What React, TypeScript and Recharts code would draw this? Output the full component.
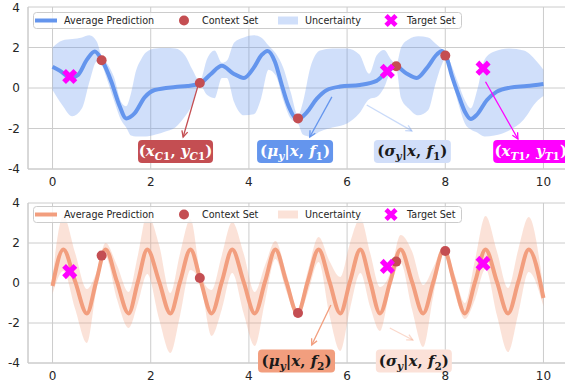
import { ComposedChart, Line, Area, Scatter, XAxis, YAxis, CartesianGrid, ReferenceLine, ReferenceDot, Legend } from 'recharts';

// shared context / target points
const contextX = [1, 3, 5, 7, 8];
const contextY = [1.37, 0.25, -1.5, 1.07, 1.6];
const targetX = [0.35, 6.82, 8.77];
const targetY = [0.57, 0.83, 0.98];

// top panel: average prediction f1
const topMeanX = [0, 0.15, 0.37, 0.52, 0.7, 0.86, 1.0, 1.2, 1.36, 1.5, 1.67, 1.88, 2.08, 2.5, 2.75, 3.0, 3.22, 3.45, 3.68, 3.9, 4.09, 4.26, 4.38, 4.53, 4.67, 4.8, 4.99, 5.18, 5.38, 5.59, 5.86, 6.26, 6.6, 6.81, 7.0, 7.21, 7.42, 7.62, 7.83, 7.93, 8.02, 8.13, 8.27, 8.4, 8.52, 8.64, 8.85, 9.05, 9.32, 9.66, 10];
const topMeanY = [1.05, 0.85, 0.5, 0.65, 1.4, 1.8, 1.4, 0.3, -0.85, -1.5, -1.25, -0.45, -0.1, 0.05, 0.1, 0.22, 0.68, 1.1, 0.72, 0.5, 0.97, 1.63, 1.83, 1.3, 0.15, -0.84, -1.55, -1.2, -0.54, -0.1, 0.07, 0.15, 0.35, 0.8, 1.05, 0.72, 0.5, 0.97, 1.66, 1.83, 1.55, 0.64, -0.35, -1.17, -1.53, -1.33, -0.59, -0.18, 0.02, 0.1, 0.2];

// top panel: uncertainty band
const topBandX = [0, 0.2, 0.4, 0.6, 0.75, 0.9, 1.0, 1.1, 1.25, 1.4, 1.5, 1.6, 1.7, 1.8, 1.9, 2.1, 2.3, 2.5, 2.7, 2.85, 3.0, 3.15, 3.3, 3.45, 3.55, 3.7, 3.9, 4.1, 4.25, 4.4, 4.55, 4.7, 4.85, 5.0, 5.1, 5.25, 5.45, 5.7, 6.0, 6.25, 6.45, 6.6, 6.75, 6.9, 7.0, 7.1, 7.25, 7.45, 7.65, 7.8, 7.92, 8.0, 8.13, 8.27, 8.4, 8.52, 8.65, 8.8, 9.0, 9.3, 9.6, 9.85, 10];
const topBandHigh = [2.0, 2.35, 2.42, 2.5, 2.6, 2.3, 1.55, 1.25, 0.55, -0.7, -0.9, -0.25, 0.85, 1.4, 1.75, 1.95, 1.97, 1.95, 1.6, 0.9, 0.35, 1.45, 1.85, 1.25, 1.35, 2.25, 2.5, 2.6, 2.5, 2.1, 1.7, 1.0, -0.2, -1.35, -0.7, 1.0, 1.85, 1.95, 1.95, 1.65, 0.7, 1.6, 1.88, 1.4, 1.15, 2.0, 2.4, 2.55, 2.5, 2.2, 1.95, 1.8, 1.1, 0.2, -0.6, -1.0, -0.1, 1.4, 1.8, 1.95, 1.85, 1.35, 0.9];
const topBandLow = [-0.1, -0.85, -1.4, -1.0, 0.3, 1.3, 1.15, 0.5, -0.6, -1.6, -1.95, -2.35, -2.4, -2.4, -2.4, -2.3, -2.15, -1.95, -1.4, -0.8, 0.15, -0.35, -0.5, 0.5, 0.5, -0.7, -1.35, -1.3, -0.5, 0.9, 0.6, -0.6, -1.5, -1.75, -2.3, -2.4, -2.15, -1.95, -1.75, -1.25, -0.55, -0.45, 0.0, 0.85, 0.95, -0.5, -1.0, -1.35, -1.1, 0.2, 1.1, 1.45, 0.5, -0.8, -1.75, -2.05, -2.2, -2.4, -2.35, -2.1, -1.55, -0.7, -0.4];

// bottom panel: average prediction f2 and its band
const bottomX = [0, 0.22, 0.46, 0.70, 0.89, 1.08, 1.31, 1.55, 1.74, 1.93, 2.17, 2.40, 2.60, 2.81, 3.02, 3.24, 3.45, 3.66, 3.89, 4.12, 4.33, 4.54, 4.76, 4.99, 5.20, 5.42, 5.64, 5.86, 6.06, 6.27, 6.47, 6.67, 6.88, 7.09, 7.32, 7.55, 7.76, 7.97, 8.18, 8.40, 8.61, 8.82, 9.05, 9.28, 9.49, 9.70, 10];
const bottomMean = [-0.15, 1.68, 0.08, -1.52, 0.08, 1.68, 0.08, -1.52, 0.08, 1.68, 0.08, -1.52, 0.08, 1.68, 0.08, -1.52, 0.08, 1.68, 0.08, -1.52, 0.08, 1.68, 0.08, -1.52, 0.08, 1.68, 0.08, -1.52, 0.08, 1.68, 0.08, -1.52, 0.08, 1.68, 0.08, -1.52, 0.08, 1.68, 0.08, -1.52, 0.08, 1.68, 0.08, -1.52, 0.08, 1.68, -0.75];
const bottomLow = [-0.55, 0.6, -1.3, -3.0, -0.4, 1.3, -0.8, -2.25, -1.0, 0.45, -1.8, -3.5, -1.6, 0.65, -0.1, -2.65, -1.3, 0.5, -1.5, -3.15, -0.9, 1.2, -0.4, -1.75, -0.5, 1.05, -1.6, -3.4, -1.3, 0.5, -1.2, -2.4, -0.3, 1.0, -1.3, -3.2, -0.6, 1.45, -0.4, -1.8, -0.8, 0.7, -1.6, -3.45, -1.5, 0.55, -1.15];
const bottomHigh = [0.3, 3.35, 1.5, -0.3, 0.5, 2.0, 0.9, -0.45, 1.4, 3.45, 1.9, -0.5, 1.5, 3.2, 0.4, -0.35, 1.4, 3.05, 1.5, -0.45, 0.9, 2.1, 0.5, -1.3, 0.6, 2.3, 1.1, 0.3, 2.0, 3.25, 1.5, -0.2, 0.5, 2.4, 1.6, -0.1, 0.8, 1.85, 0.5, -1.0, 1.2, 3.35, 1.6, -0.25, 1.7, 3.3, -0.3];

const xTicks = [0, 2, 4, 6, 8, 10];
const yTicks = [-4, -2, 0, 2, 4];

const BLUE = '#6495ED';
const SALMON = '#F29E7E';
const RED = '#C44E52';
const MAGENTA = '#FF00FF';
const BLUE_LIGHT = '#D1DEF9';
const SALMON_LIGHT = '#FBE1D8';
const GRID = '#cccccc';
const INK = '#262626';

const contextPts = contextX.map((x, i) => ({ x, y: contextY[i] }));
const targetPts = targetX.map((x, i) => ({ x, y: targetY[i] }));
const topLine = topMeanX.map((x, i) => ({ x, y: topMeanY[i] }));
const topBand = topBandX.map((x, i) => ({ x, band: [topBandLow[i], topBandHigh[i]] }));
const bottomLine = bottomX.map((x, i) => ({ x, y: bottomMean[i] }));
const bottomBand = bottomX.map((x, i) => ({ x, band: [bottomLow[i], bottomHigh[i]] }));

// matplotlib's filled 'X' marker: a plus turned 45 degrees
const PLUS = [[-1, -3], [1, -3], [1, -1], [3, -1], [3, 1], [1, 1], [1, 3], [-1, 3], [-1, 1], [-3, 1], [-3, -1], [-1, -1]];
function xMarker(cx: number, cy: number, size: number) {
  const k = size / 6;
  const r = Math.SQRT1_2;
  return PLUS.map(([a, b]) => `${cx + (a - b) * r * k},${cy + (a + b) * r * k}`).join(' ');
}

type Part = [string, string];
type Box = { x: number; y: number; w: number; fill: string; ink: string; parts: Part[] };
type Arrow = { from: [number, number]; to: [number, number]; color: string; opacity?: number };

const mathParts = (v: string, n: string): Part[] => [
  ['(', ''], [v, 'i'], ['y', 'is'], ['|', ''], ['x', 'i'], [', ', ''], ['f', 'i'], [n, 's'], [')', ''],
];
const pointParts = (s: string): Part[] => [
  ['(', ''], ['x', 'i'], [s, 'is'], ['1', 's'], [', ', ''], ['y', 'i'], [s, 'is'], ['1', 's'], [')', ''],
];

const topArrows: Arrow[] = [
  { from: [2.98, 0.25], to: [2.66, -2.42], color: RED },
  { from: [5.69, -0.44], to: [5.24, -2.42], color: BLUE },
  { from: [6.4, -0.84], to: [7.32, -2.12], color: BLUE, opacity: 0.35 },
  { from: [8.82, 0.31], to: [9.48, -2.52], color: MAGENTA },
];
const topBoxes: Box[] = [
  { x: 2.505, y: -3.14, w: 75, fill: RED, ink: '#fff', parts: pointParts('C') },
  { x: 4.94, y: -3.14, w: 76, fill: BLUE, ink: '#fff', parts: mathParts('μ', '1') },
  { x: 7.33, y: -3.14, w: 77, fill: BLUE_LIGHT, ink: '#1a1a1a', parts: mathParts('σ', '1') },
  { x: 9.74, y: -3.14, w: 75, fill: MAGENTA, ink: '#fff', parts: pointParts('T') },
];
const bottomArrows: Arrow[] = [
  { from: [5.67, -1.1], to: [5.28, -3.1], color: SALMON },
  { from: [6.87, -2.25], to: [7.34, -2.85], color: SALMON, opacity: 0.4 },
];
const bottomBoxes: Box[] = [
  { x: 4.97, y: -3.9, w: 77, fill: SALMON, ink: '#1a1a1a', parts: mathParts('μ', '2') },
  { x: 7.36, y: -3.9, w: 76, fill: SALMON_LIGHT, ink: '#1a1a1a', parts: mathParts('σ', '2') },
];

const arrowShape = (color: string, opacity = 1) => (p: any) => {
  const { x1, y1, x2, y2 } = p;
  const a = Math.atan2(y2 - y1, x2 - x1);
  const L = 6;
  const W = 3;
  const bx = x2 - L * Math.cos(a);
  const by = y2 - L * Math.sin(a);
  const pts = `${bx + W * Math.sin(a)},${by - W * Math.cos(a)} ${x2},${y2} ${bx - W * Math.sin(a)},${by + W * Math.cos(a)}`;
  return (
    <g stroke={color} strokeOpacity={opacity} strokeWidth={1.3} fill="none">
      <line x1={x1} y1={y1} x2={x2} y2={y2} />
      <polyline points={pts} />
    </g>
  );
};

const boxShape = (b: Box) => (p: any) => {
  let inSub = false;
  return (
    <g>
      <rect x={p.cx - b.w / 2} y={p.cy - 11.5} width={b.w} height={23} rx={4} fill={b.fill} />
      <text x={p.cx} y={p.cy + 4.7} textAnchor="middle" fontFamily="DejaVu Serif" fontWeight="bold" fontSize={15} fill={b.ink}>
        {b.parts.map(([t, f], i) => {
          const sub = f.includes('s');
          const dy = sub && !inSub ? 4 : !sub && inSub ? -4 : 0;
          inSub = sub;
          return (
            <tspan key={i} dy={dy} fontSize={sub ? 10.5 : 15} fontStyle={f.includes('i') ? 'italic' : 'normal'}>{t}</tspan>
          );
        })}
      </text>
    </g>
  );
};

const legendContent = (color: string) => () => (
  <svg width={430} height={18} style={{ display: 'block' }} fontFamily="DejaVu Sans" fontSize={9.6} fill={INK}>
    <rect x={0.5} y={0.5} width={428} height={16} rx={3} fill="#fff" fillOpacity={0.8} stroke={GRID} />
    <line x1={2} y1={8.5} x2={24} y2={8.5} stroke={color} strokeWidth={4} />
    <text x={31} y={12}>Average Prediction</text>
    <circle cx={151} cy={8.5} r={5} fill={RED} />
    <text x={169} y={12}>Context Set</text>
    <rect x={245} y={4.5} width={20} height={8} fill={color} fillOpacity={0.3} />
    <text x={272} y={12}>Uncertainty</text>
    <polygon points={xMarker(358, 8.5, 14)} fill={MAGENTA} />
    <text x={374} y={12}>Target Set</text>
  </svg>
);

type PanelProps = {
  line: { x: number; y: number }[];
  band: { x: number; band: number[] }[];
  color: string;
  arrows: Arrow[];
  boxes: Box[];
  height: number;
  top: number;
  bottom: number;
  legendTop: number;
};

const Panel = ({ line, band, color, arrows, boxes, height, top, bottom, legendTop }: PanelProps) => (
  <ComposedChart width={568} height={height} margin={{ top, right: 0, bottom, left: 0 }}>
    <CartesianGrid stroke={GRID} strokeWidth={1} />
    <XAxis dataKey="x" type="number" domain={[-0.5, 10.5]} ticks={xTicks} allowDataOverflow tickLine={false}
      axisLine={{ stroke: GRID }} height={20} tick={{ fill: INK, fontSize: 12, fontFamily: 'DejaVu Sans' }} />
    <YAxis type="number" domain={[-4, 4]} ticks={yTicks} allowDataOverflow tickLine={false} width={28}
      axisLine={{ stroke: GRID }} tick={{ fill: INK, fontSize: 12, fontFamily: 'DejaVu Sans' }} />
    <Legend layout="vertical" align="center" verticalAlign="middle" content={legendContent(color)}
      wrapperStyle={{ top: legendTop, left: 33, width: 430, height: 18 }} />
    <Area data={band} dataKey="band" type="monotone" fill={color} fillOpacity={0.3} stroke="none" isAnimationActive={false} />
    <Line data={line} dataKey="y" type="monotone" stroke={color} strokeWidth={4} dot={false} isAnimationActive={false} />
    <Scatter data={contextPts} dataKey="y" isAnimationActive={false}
      shape={(p: any) => <circle cx={p.cx} cy={p.cy} r={5} fill={RED} />} />
    <Scatter data={targetPts} dataKey="y" isAnimationActive={false}
      shape={(p: any) => <polygon points={xMarker(p.cx, p.cy, 16)} fill={MAGENTA} />} />
    {arrows.map((a, i) => (
      <ReferenceLine key={`a${i}`} ifOverflow="visible"
        segment={[{ x: a.from[0], y: a.from[1] }, { x: a.to[0], y: a.to[1] }]}
        shape={arrowShape(a.color, a.opacity)} />
    ))}
    {boxes.map((b, i) => (
      <ReferenceDot key={`b${i}`} x={b.x} y={b.y} ifOverflow="visible" shape={boxShape(b)} />
    ))}
  </ComposedChart>
);

export default function App() {
  return (
    <div style={{ position: 'absolute', left: 0, top: 0, width: 565, height: 392, overflow: 'hidden', background: '#fff', fontFamily: 'DejaVu Sans' }}>
      <div style={{ position: 'absolute', left: 0, top: 0 }}>
        <Panel line={topLine} band={topBand} color={BLUE} arrows={topArrows} boxes={topBoxes}
          height={195} top={7} bottom={6} legendTop={12} />
      </div>
      <div style={{ position: 'absolute', left: 0, top: 195 }}>
        <Panel line={bottomLine} band={bottomBand} color={SALMON} arrows={bottomArrows} boxes={bottomBoxes}
          height={197} top={8} bottom={9} legendTop={11} />
      </div>
    </div>
  );
}
